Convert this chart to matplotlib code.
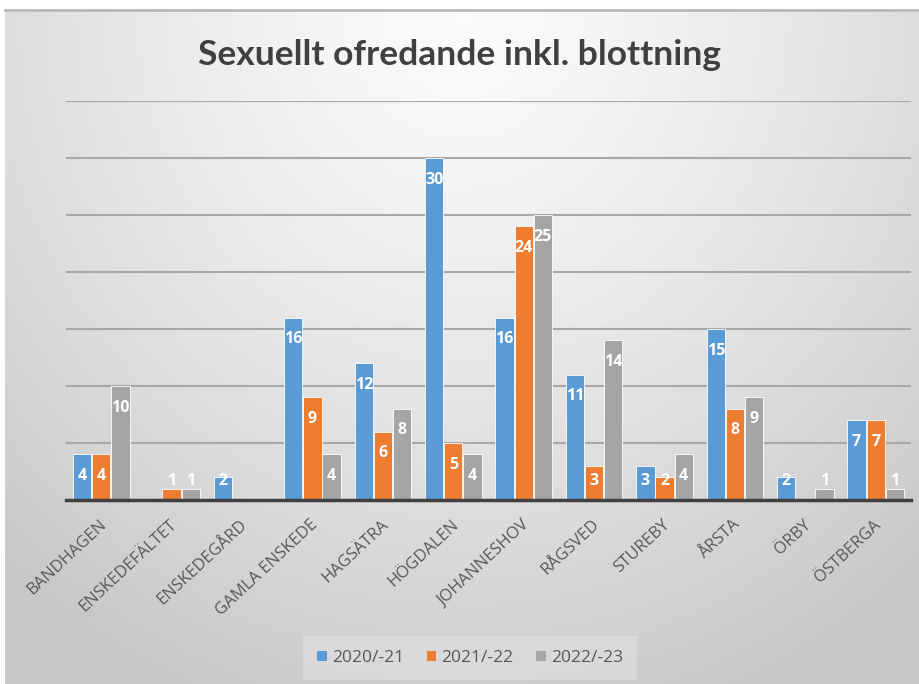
import numpy as np
import matplotlib.pyplot as plt
import matplotlib.transforms as mtransforms
from matplotlib.patches import Patch

# data
omraden = ['BANDHAGEN', 'ENSKEDEFÄLTET', 'ENSKEDEGÅRD', 'GAMLA ENSKEDE', 'HAGSÄTRA',
           'HÖGDALEN', 'JOHANNESHOV', 'RÅGSVED', 'STUREBY', 'ÅRSTA', 'ÖRBY', 'ÖSTBERGA']
ar_2020 = [4, 0, 2, 16, 12, 30, 16, 11, 3, 15, 2, 7]
ar_2021 = [4, 1, 0, 9, 6, 5, 24, 3, 2, 8, 0, 7]
ar_2022 = [10, 1, 0, 4, 8, 4, 25, 14, 4, 9, 1, 1]
serier = ['2020/-21', '2021/-22', '2022/-23']
farger = ['#5B9BD5', '#ED7D31', '#A5A5A5']

W, H = 920, 684
fig = plt.figure(figsize=(W / 100, H / 100), dpi=100, facecolor='white')

# chart area background: soft radial gradient
bg = fig.add_axes([5 / W, 0, 1 - 5 / W, (H - 10) / H])
yy, xx = np.mgrid[0:1:300j, 0:1:400j]
r = np.sqrt(((xx - 0.5) / 0.75) ** 2 + ((yy - 0.0) / 1.1) ** 2)
shade = 0.985 - 0.2 * np.clip(r, 0, 1) ** 1.3
bg.imshow(np.dstack([shade] * 3), aspect='auto', extent=[0, 1, 1, 0])
bg.set_axis_off()
fig.add_artist(plt.Line2D([5 / W, 1], [(H - 10) / H] * 2, color='#b8b8b8', lw=2))

ax = fig.add_axes([66 / W, (H - 500) / H, (911 - 66) / W, (500 - 101) / H])
ax.patch.set_alpha(0)
ax.set_xlim(-0.5, len(omraden) - 0.5)
ax.set_ylim(0, 35)
ax.set_yticks(np.arange(5, 36, 5))
ax.yaxis.grid(True, color='#a8a8a8', lw=1.5)
ax.set_axisbelow(True)
ax.tick_params(axis='y', left=False, labelleft=False)
for s in ['top', 'right', 'left']:
    ax.spines[s].set_visible(False)
ax.spines['bottom'].set_color('#404040')
ax.spines['bottom'].set_linewidth(2.5)
ax.spines['bottom'].set_zorder(6)

x = np.arange(len(omraden))
bw = 0.26
for i, (vals, c) in enumerate(zip([ar_2020, ar_2021, ar_2022], farger)):
    pos = x + (i - 1) * (bw + 0.012)
    ax.bar(pos, vals, width=bw, color=c, edgecolor='white', linewidth=0.6, zorder=3)
    for p, v in zip(pos, vals):
        if v == 0:
            continue
        ax.text(p, max(v - 1.9, 1.65), str(v), ha='center', va='center', color='white',
                fontsize=11.5, fontweight='bold', family='Open Sans', zorder=4)

ax.set_xticks(x)
ax.set_xticklabels(omraden, rotation=43, ha='right', va='center', rotation_mode='anchor',
                   fontsize=12, color='#595959', family='Open Sans')
ax.tick_params(axis='x', length=0, pad=12)
# small nudge so the label ends line up like the original
shift = mtransforms.ScaledTranslation(3 / 100, -6 / 100, fig.dpi_scale_trans)
for lbl in ax.get_xticklabels():
    lbl.set_transform(lbl.get_transform() + shift)

fig.text(0.5, (H - 55) / H, 'Sexuellt ofredande inkl. blottning', ha='center', va='center',
         fontsize=25.5, fontweight='bold', color='#404040', family='Lato')

handles = [Patch(facecolor=c, label=s) for c, s in zip(farger, serier)]
leg = fig.legend(handles=handles, loc='center', bbox_to_anchor=(470 / W, (H - 658) / H),
                 ncol=3, frameon=True, handlelength=0.55, handleheight=0.55,
                 handletextpad=0.3, columnspacing=1.3, borderpad=0.5,
                 prop={'family': 'Open Sans', 'size': 12.5})
leg.get_frame().set_facecolor('#dcdcdc')
leg.get_frame().set_edgecolor('none')
leg.get_frame().set_boxstyle('square')
for t in leg.get_texts():
    t.set_color('#595959')

fig.savefig('out.png', dpi=100, facecolor='white')
